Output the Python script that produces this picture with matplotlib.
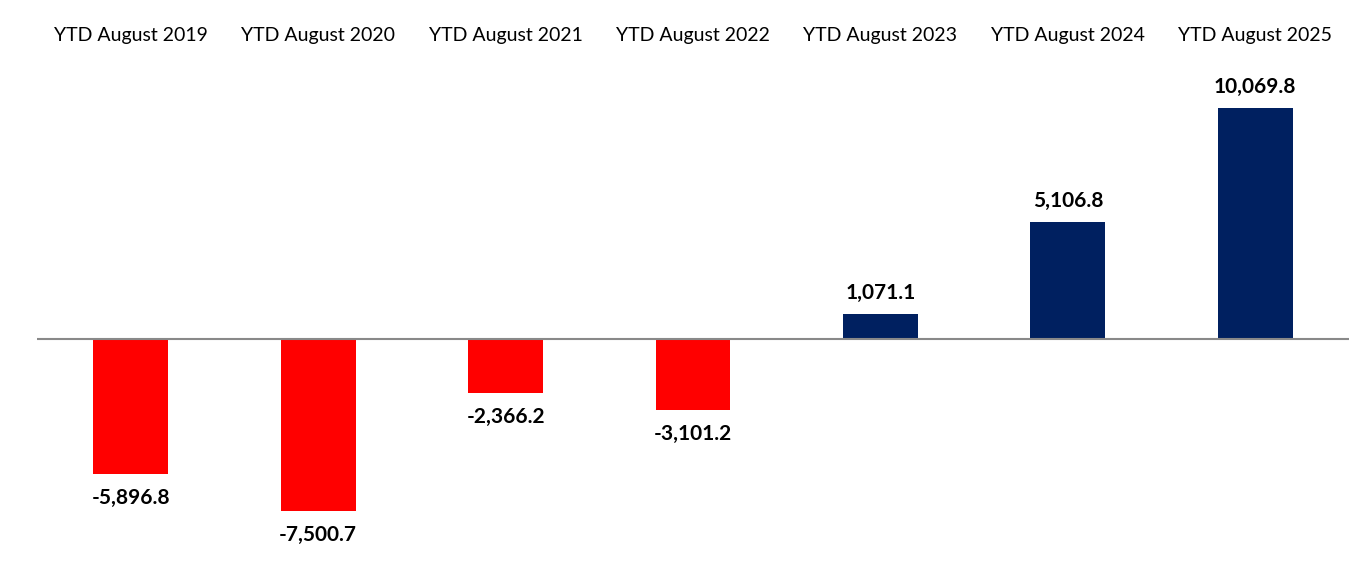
import matplotlib
matplotlib.use('Agg')
import matplotlib.pyplot as plt
from matplotlib.transforms import blended_transform_factory

plt.rcParams['font.family'] = ['Lato', 'DejaVu Sans']

# данные
categories = ['YTD August 2019', 'YTD August 2020', 'YTD August 2021', 'YTD August 2022',
              'YTD August 2023', 'YTD August 2024', 'YTD August 2025']
values = [-5896.8, -7500.7, -2366.2, -3101.2, 1071.1, 5106.8, 10069.8]

colors = ['#FF0000' if v < 0 else '#002060' for v in values]

fig = plt.figure(figsize=(13.57, 5.79), dpi=100)
# оси: x от 37 до 1349 px, y от 60 до 560 px
ax = fig.add_axes([37 / 1357, 19 / 579, 1312 / 1357, 500 / 579])

x = range(len(categories))
ax.bar(x, values, width=0.4, color=colors, zorder=2)
ax.axhline(0, color='#898989', linewidth=1.5, zorder=3)

ax.set_xlim(-0.5, len(categories) - 0.5)
ax.set_ylim(-9634, 12162)

for i, v in enumerate(values):
    off = 8 if v > 0 else -10
    ax.annotate(f'{v:,.1f}', (i, v), xytext=(0, off), textcoords='offset points',
                ha='center', va='bottom' if v > 0 else 'top',
                fontsize=15, fontweight='bold', color='black')

# подписи категорий сверху
trans = blended_transform_factory(ax.transData, fig.transFigure)
for i, c in enumerate(categories):
    ax.text(i, 1 - 35 / 579, c, transform=trans,
            ha='center', va='center', fontsize=14, color='black')

ax.set_xticks([])
ax.set_yticks([])
for s in ax.spines.values():
    s.set_visible(False)

fig.savefig('out.png', dpi=100)
